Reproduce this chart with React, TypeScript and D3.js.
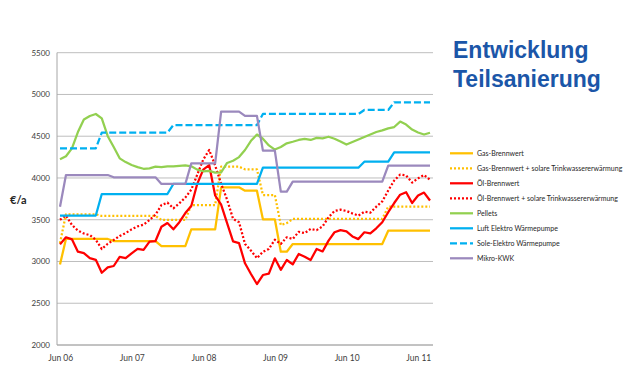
import React from "react";
import * as d3 from "d3";

const months = [
  "Jun 06","Jul 06","Aug 06","Sep 06","Okt 06","Nov 06","Dez 06","Jan 07","Feb 07","Mär 07","Apr 07","Mai 07",
  "Jun 07","Jul 07","Aug 07","Sep 07","Okt 07","Nov 07","Dez 07","Jan 08","Feb 08","Mär 08","Apr 08","Mai 08",
  "Jun 08","Jul 08","Aug 08","Sep 08","Okt 08","Nov 08","Dez 08","Jan 09","Feb 09","Mär 09","Apr 09","Mai 09",
  "Jun 09","Jul 09","Aug 09","Sep 09","Okt 09","Nov 09","Dez 09","Jan 10","Feb 10","Mär 10","Apr 10","Mai 10",
  "Jun 10","Jul 10","Aug 10","Sep 10","Okt 10","Nov 10","Dez 10","Jan 11","Feb 11","Mär 11","Apr 11","Mai 11",
  "Jun 11","Jul 11","Aug 11",
];
const tickLabels = ["Jun 06", "Jun 07", "Jun 08", "Jun 09", "Jun 10", "Jun 11"];
const yTicks = [2000, 2500, 3000, 3500, 4000, 4500, 5000, 5500];

const gasBW = [
  2965, 3270, 3270, 3270, 3270, 3270, 3270, 3270, 3270,
  3245, 3245, 3245, 3245, 3245, 3245, 3245, 3245,
  3185, 3185, 3185, 3185, 3185,
  3385, 3385, 3385, 3385, 3385,
  3888, 3888, 3888, 3888,
  3848, 3848, 3848,
  3505, 3505, 3505,
  3117, 3117,
  3209, 3209, 3209, 3209, 3209, 3209, 3209, 3209, 3209, 3209, 3209, 3209, 3209, 3209, 3209, 3209,
  3369, 3369, 3369, 3369, 3369, 3369, 3369, 3369,
];
const gasSolar = [
  3220, 3565, 3565, 3565, 3565, 3565, 3565,
  3545, 3545, 3545, 3545, 3545, 3545, 3545, 3545, 3545, 3545,
  3497, 3497, 3497, 3497, 3497,
  3676, 3676, 3676, 3676, 3676,
  4135, 4135, 4135, 4135,
  4104, 4104, 4104,
  3796, 3796, 3796,
  3437, 3460,
  3509, 3509, 3509, 3509, 3509, 3509, 3509, 3509, 3509, 3509, 3509, 3509, 3509, 3509, 3509, 3509,
  3656, 3656, 3656, 3656, 3656, 3656, 3656, 3656,
];
const oilBW = [
  3205, 3290, 3265, 3117, 3100, 3040, 3020, 2865, 2930, 2946, 3055, 3040,
  3098, 3150, 3140, 3237, 3245, 3416, 3460, 3385, 3470, 3580, 3665, 3930,
  4100, 4155, 3790, 3680, 3460, 3240, 3220, 2978, 2850, 2730, 2838, 2855,
  3038, 2900, 3018, 2965, 3090, 3057, 3018, 3150, 3120, 3250, 3350, 3375,
  3360, 3300, 3268, 3350, 3337, 3397, 3470, 3590, 3700, 3800, 3830, 3700,
  3790, 3825, 3730,
];
const oilSolar = [
  3500, 3550, 3437, 3370, 3335, 3315, 3260, 3150, 3212, 3257, 3305, 3340,
  3385, 3420, 3440, 3497, 3560, 3676, 3704, 3637, 3697, 3765, 3860, 4040,
  4220, 4335, 4150, 3930, 3740, 3510, 3470, 3210, 3130, 3040, 3115, 3150,
  3260, 3210, 3290, 3270, 3355, 3340, 3390, 3375, 3420, 3530, 3605, 3620,
  3605, 3575, 3550, 3595, 3585, 3656, 3720, 3850, 3970, 4040, 4030, 3945,
  3995, 4035, 3980,
];
const pellets = [
  4225, 4260, 4355, 4550, 4700, 4742, 4766, 4714, 4500, 4370, 4235, 4190,
  4155, 4130, 4110, 4115, 4135, 4131, 4140, 4138, 4145, 4150, 4140, 4100,
  4080, 4085, 4065, 4068, 4180, 4207, 4250, 4335, 4445, 4520, 4470, 4390,
  4340, 4370, 4415, 4434, 4455, 4468, 4455, 4480, 4475, 4494, 4470, 4437,
  4400, 4430, 4460, 4490, 4520, 4550, 4570, 4594, 4610, 4675, 4640, 4580,
  4545, 4520, 4542,
];
const luft = [
  3550, 3550, 3550, 3550, 3550, 3550, 3550,
  3808, 3808, 3808, 3808, 3808, 3808, 3808, 3808, 3808, 3808, 3808, 3808,
  3928, 3928, 3928, 3928, 3928, 3928, 3928, 3928, 3928, 3928, 3928, 3928, 3928, 3928, 3928,
  4123, 4123, 4123, 4123, 4123, 4123, 4123, 4123, 4123, 4123, 4123, 4123, 4123, 4123, 4123, 4123, 4123,
  4195, 4195, 4195, 4195, 4195,
  4307, 4307, 4307, 4307, 4307, 4307, 4307,
];
const sole = [
  4355, 4355, 4355, 4355, 4355, 4355, 4355,
  4542, 4542, 4542, 4542, 4542, 4542, 4542, 4542, 4542, 4542, 4542, 4542,
  4634, 4634, 4634, 4634, 4634, 4634, 4634, 4634, 4634, 4634, 4634, 4634, 4634, 4634, 4634,
  4766, 4766, 4766, 4766, 4766, 4766, 4766, 4766, 4766, 4766, 4766, 4766, 4766, 4766, 4766, 4766, 4766,
  4814, 4814, 4814, 4814, 4814,
  4906, 4906, 4906, 4906, 4906, 4906, 4906,
];
const kwk = [
  3656, 4035, 4035, 4035, 4035, 4035, 4035, 4035, 4035,
  4008, 4008, 4008, 4008, 4008, 4008, 4008, 4008,
  3928, 3928, 3928, 3928, 3928,
  4175, 4175, 4175, 4175, 4175,
  4794, 4794, 4794, 4794,
  4743, 4743, 4743,
  4327, 4327, 4327,
  3836, 3836,
  3956, 3956, 3956, 3956, 3956, 3956, 3956, 3956, 3956, 3956, 3956, 3956, 3956, 3956, 3956, 3956,
  4147, 4147, 4147, 4147, 4147, 4147, 4147, 4147,
];

const seriesNames = [
  "Gas-Brennwert",
  "Gas-Brennwert + solare Trinkwassererwärmung",
  "Öl-Brennwert",
  "Öl-Brennwert + solare Trinkwassererwärmung",
  "Pellets",
  "Luft Elektro Wärmepumpe",
  "Sole-Elektro Wärmepumpe",
  "Mikro-KWK",
];
const seriesValues = [gasBW, gasSolar, oilBW, oilSolar, pellets, luft, sole, kwk];
const seriesColors = ["#FFC000", "#FFC000", "#FF0000", "#FF0000", "#92D050", "#00B0F0", "#00B0F0", "#9B89BD"];
const seriesDash = [null, "2 2", null, "2 2", null, null, "7 3", null];

const W = 629;
const H = 378;
const plotLeft = 57;
const plotRight = 433;
const plotTop = 52.7;
const plotBottom = 345;

export default function App() {
  const x = d3.scalePoint<string>().domain(months).range([60, 430]);
  const y = d3.scaleLinear().domain([2000, 5500]).range([plotBottom, plotTop]);
  const line = d3
    .line<number>()
    .x((_, i) => x(months[i]) as number)
    .y((d) => y(d));

  const axisFont = "Lato, 'Open Sans', sans-serif";

  return (
    <svg
      width={W}
      height={H}
      style={{ position: "absolute", left: 0, top: 0, background: "#fff" }}
    >
      <rect x={0} y={0} width={W} height={H} fill="#fff" />
      {/* grid */}
      {yTicks.map((t) => (
        <line
          key={t}
          x1={plotLeft}
          x2={plotRight}
          y1={y(t)}
          y2={y(t)}
          stroke="#BEBEBE"
          strokeWidth={1}
        />
      ))}
      <line x1={plotLeft} x2={plotLeft} y1={plotTop} y2={plotBottom} stroke="#A6A6A6" strokeWidth={1} />
      <line x1={plotLeft} x2={plotRight} y1={plotBottom} y2={plotBottom} stroke="#A6A6A6" strokeWidth={1} />
      {/* y labels */}
      {yTicks.map((t) => (
        <text
          key={t}
          x={50}
          y={y(t)}
          dy="0.35em"
          textAnchor="end"
          fontFamily={axisFont}
          fontSize={8}
          fill="#404040"
        >
          {t}
        </text>
      ))}
      {/* x labels */}
      {tickLabels.map((t) => (
        <text
          key={t}
          x={(x(t) as number) + 0.7}
          y={358}
          dy="0.35em"
          textAnchor="middle"
          fontFamily={axisFont}
          fontSize={8.5}
          fill="#404040"
        >
          {t}
        </text>
      ))}
      <text
        x={10}
        y={200}
        dy="0.35em"
        fontFamily={axisFont}
        fontWeight="bold"
        fontSize={11}
        fill="#262626"
      >
        €/a
      </text>
      {/* series */}
      {seriesValues.map((vals, k) => (
        <path
          key={seriesNames[k]}
          d={line(vals) || ""}
          fill="none"
          stroke={seriesColors[k]}
          strokeWidth={2.25}
          strokeDasharray={seriesDash[k] || undefined}
          strokeLinejoin="round"
        />
      ))}
      {/* title */}
      <text
        x={453}
        y={58}
        fontFamily="'Liberation Sans', Arial, sans-serif"
        fontWeight="bold"
        fontSize={23}
        fill="#1B56A8"
      >
        Entwicklung
      </text>
      <text
        x={453}
        y={87}
        fontFamily="'Liberation Sans', Arial, sans-serif"
        fontWeight="bold"
        fontSize={23}
        fill="#1B56A8"
      >
        Teilsanierung
      </text>
      {/* legend */}
      {seriesNames.map((name, k) => {
        const ly = 153.3 + k * 15;
        return (
          <g key={name}>
            <line
              x1={450}
              x2={473}
              y1={ly}
              y2={ly}
              stroke={seriesColors[k]}
              strokeWidth={2.25}
              strokeDasharray={seriesDash[k] || undefined}
            />
            <text
              x={477}
              y={ly}
              dy="0.35em"
              fontFamily={axisFont}
              fontSize={7}
              fill="#262626"
            >
              {name}
            </text>
          </g>
        );
      })}
    </svg>
  );
}
